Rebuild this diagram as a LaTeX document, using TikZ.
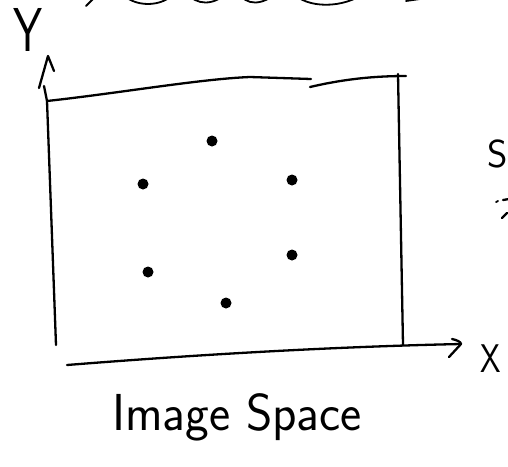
\documentclass[tikz,border=0pt]{standalone}
\begin{document}
\begin{tikzpicture}[x=1pt,y=-1pt,
  pen/.style={line width=2.3pt,line cap=round,line join=round,black},
  thinpen/.style={line width=1.8pt,line cap=round,line join=round,black},
  dot/.style={circle,fill=black,inner sep=0pt,minimum size=11pt},
  hand/.style={font=\fontsize{#1}{#1}\selectfont\sffamily,inner sep=0pt}]
\useasboundingbox[fill=white] (0,0) rectangle (508,466);
% wavy line at the top (cut by the page edge)
\draw[thinpen] (86,6) .. controls (89,3) and (92,0) .. (97,-5);
\draw[thinpen] (120,-8) .. controls (134,8) and (162,8) .. (176,-8);
\draw[thinpen] (186,-8) .. controls (196,6) and (214,6) .. (228,-8);
\draw[thinpen] (238,-8) .. controls (246,6) and (262,6) .. (278,-8);
\draw[thinpen] (292,-8) .. controls (306,9) and (344,9) .. (366,-8);
\draw[thinpen] (406,1) -- (420,-1);
% coordinates
\coordinate (ytip) at (48,56);
\coordinate (ylw) at (39,88);
\coordinate (yrw) at (54,71);
\coordinate (yshafttop) at (44,86);
\coordinate (tl) at (47,101);
\coordinate (ybot) at (56,345);
\coordinate (gapa) at (311,79);
\coordinate (gapb) at (310,87);
\coordinate (tr) at (398,74);
\coordinate (trext) at (406,76);
\coordinate (br) at (403,345);
\coordinate (xstart) at (67,365);
\coordinate (xtip) at (461,344);
% Y axis
\draw[pen] (yshafttop) -- (tl) -- (ybot);
\draw[pen] (ylw) -- (ytip) -- (yrw);
% top edge
\draw[pen] (tl) .. controls (120,93) and (200,79) .. (250,77) -- (gapa);
\draw[pen] (gapb) .. controls (340,80) and (370,76) .. (trext);
% right edge
\draw[pen] (tr) -- (br);
% X axis
\draw[pen] (xstart) .. controls (180,356) and (320,347) .. (xtip);
\draw[pen] (452,339) .. controls (457,340) and (461,342) .. (xtip) -- (449,357);
% dots
\node[dot] (d1) at (212,141) {};
\node[dot] (d2) at (143,184) {};
\node[dot] (d3) at (292,180) {};
\node[dot] (d4) at (292,255) {};
\node[dot] (d5) at (148,272) {};
\node[dot] (d6) at (226,303) {};
% labels
\node[hand=62,anchor=north west,xscale=0.75] (ylab) at (13,8) {Y};
\node[hand=40,anchor=north west,xscale=0.82] (xlab) at (480,345) {X};
\node[hand=52,anchor=base west,xscale=0.97] (title) at (112,430) {Image Space};
\node[hand=39,anchor=north west] (slab) at (487,140) {S};
% marks at the right edge
\draw[thinpen] (496,202) -- (498,201);
\draw[pen] (503,200) -- (509,199);
\draw[pen] (502,218) -- (507,213);
\end{tikzpicture}
\end{document}
